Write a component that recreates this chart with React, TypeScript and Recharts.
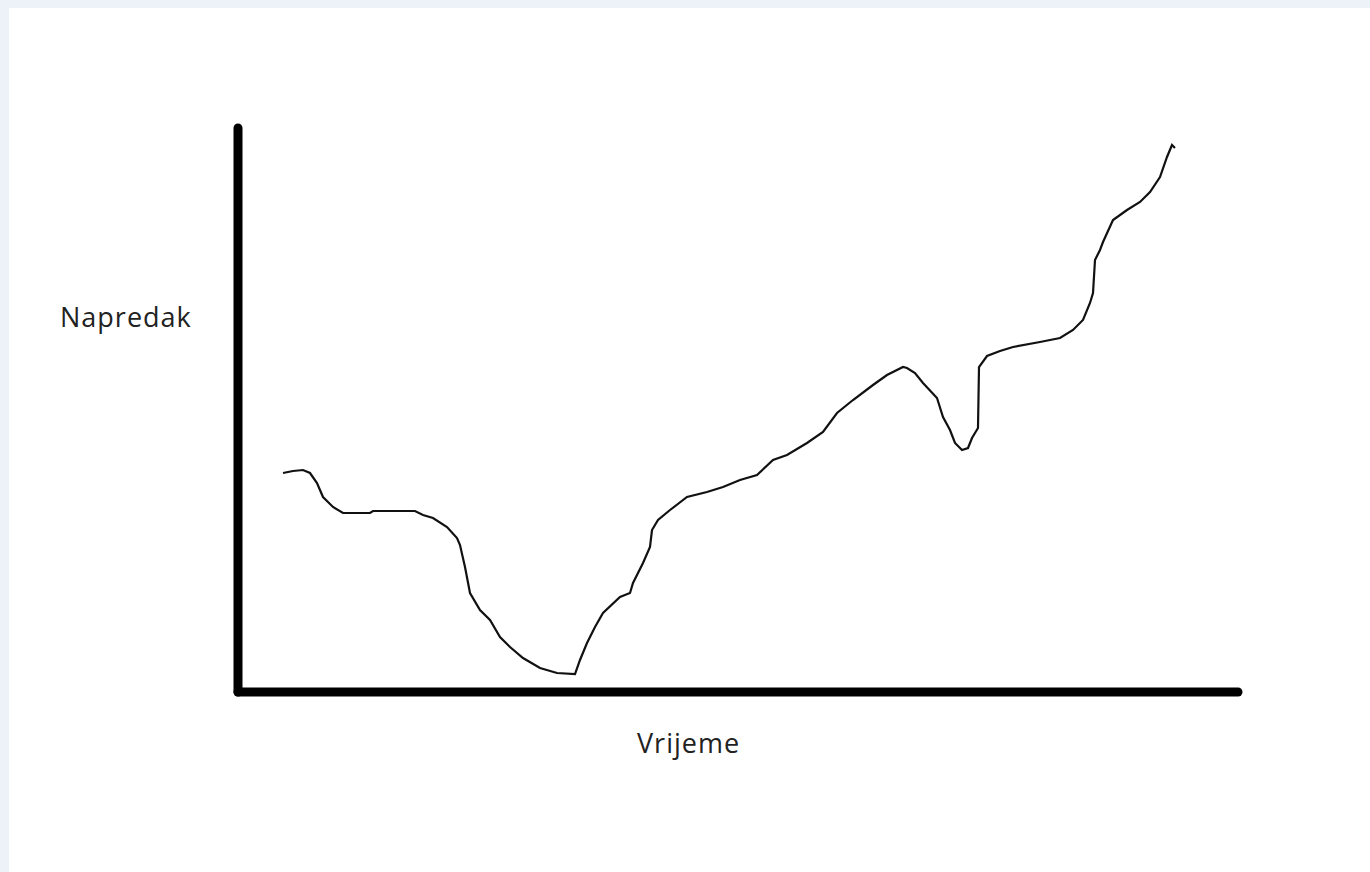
import React from 'react';
import { LineChart, Line, XAxis, YAxis, ReferenceLine } from 'recharts';

// Time (x) and progress (y) readings of the hand-drawn curve
const vrijeme = [45, 55, 65, 72, 79, 85, 95, 105, 132, 135, 177, 185, 195, 209, 219, 222, 227, 232, 242, 252, 262, 272, 285, 302, 319, 337, 342, 349, 357, 365, 382, 392, 395, 405, 412, 414, 420, 432, 449, 469, 485, 502, 519, 535, 549, 569, 585, 599, 615, 635, 649, 665, 669, 677, 685, 699, 705, 712, 717, 724, 730, 734, 740, 741, 749, 762, 775, 802, 822, 835, 845, 852, 855, 857, 862, 865, 875, 889, 902, 912, 922, 929, 934, 937];
const napredak = [219, 221, 222, 219, 209, 195, 185, 179, 179, 181, 181, 177, 174, 165, 154, 147, 125, 99, 82, 72, 55, 45, 34, 24, 19, 18, 32, 49, 65, 79, 95, 99, 109, 129, 145, 162, 172, 182, 195, 200, 205, 212, 217, 232, 237, 249, 260, 279, 292, 307, 317, 325, 324, 319, 309, 294, 275, 262, 249, 242, 244, 254, 264, 325, 336, 341, 345, 350, 354, 362, 372, 389, 399, 432, 442, 450, 472, 482, 490, 500, 515, 535, 547, 544];

const xLabel = 'Vrijeme';
const yLabel = 'Napredak';

const data = vrijeme.map((t, i) => ({ t, p: napredak[i] }));

const font = '"Open Sans", "Noto Sans", sans-serif';

export default function App() {
  return (
    <div style={{ position: 'absolute', left: 0, top: 0, width: 1370, height: 872, background: '#edf2f9', overflow: 'hidden' }}>
      <div style={{ position: 'absolute', left: 9, top: 8, width: 1361, height: 864, background: '#ffffff' }} />
      <div style={{ position: 'absolute', left: 0, top: 0 }}>
        <LineChart width={1370} height={872} data={data} margin={{ top: 128, right: 132, bottom: 180, left: 238 }}>
          <XAxis dataKey="t" type="number" domain={[0, 1000]} height={0} tick={false} tickLine={false} axisLine={false} />
          <YAxis type="number" domain={[0, 564]} width={0} tick={false} tickLine={false} axisLine={false} />
          <ReferenceLine x={0} stroke="#000" strokeWidth={9} strokeLinecap="round" ifOverflow="visible" />
          <ReferenceLine y={0} stroke="#000" strokeWidth={9} strokeLinecap="round" ifOverflow="visible" />
          <Line dataKey="p" type="linear" stroke="#111" strokeWidth={2.2} dot={false} isAnimationActive={false} />
        </LineChart>
      </div>
      <div style={{ position: 'absolute', left: 60, top: 298, fontFamily: font, fontSize: 27, letterSpacing: 1, color: '#222', whiteSpace: 'nowrap', lineHeight: '37px' }}>{yLabel}</div>
      <div style={{ position: 'absolute', left: 637, top: 724, fontFamily: font, fontSize: 27, letterSpacing: 1, color: '#222', whiteSpace: 'nowrap', lineHeight: '37px' }}>{xLabel}</div>
    </div>
  );
}
